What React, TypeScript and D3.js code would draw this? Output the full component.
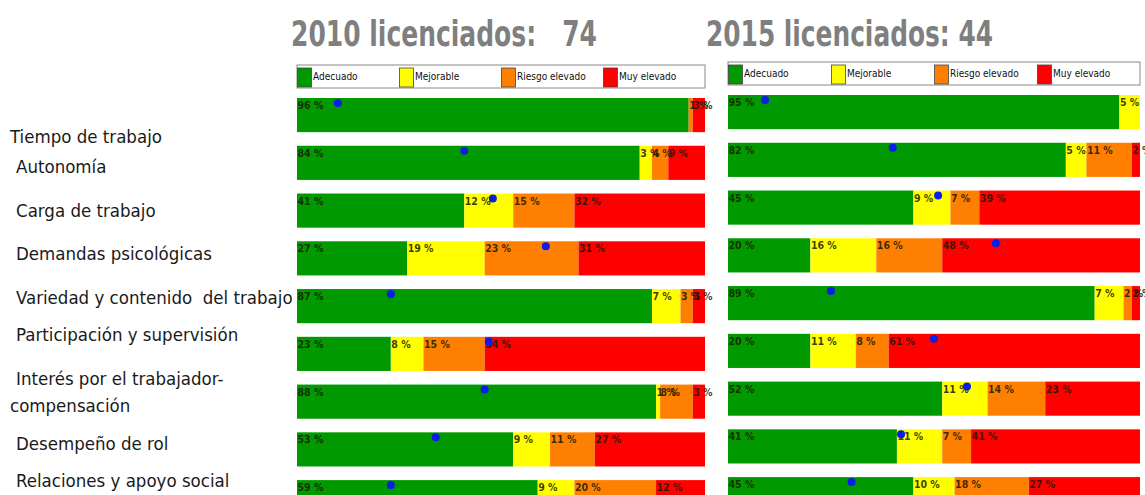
import React from "react";
import * as d3 from "d3";

const categories = [
  "Tiempo de trabajo",
  "Autonomía",
  "Carga de trabajo",
  "Demandas psicológicas",
  "Variedad y contenido  del trabajo",
  "Participación y supervisión",
  "Interés por el trabajador-|compensación",
  "Desempeño de rol",
  "Relaciones y apoyo social",
];

const levels = ["Adecuado", "Mejorable", "Riesgo elevado", "Muy elevado"];
const levelColors = ["#009900", "#ffff00", "#ff8000", "#ff0000"];

const adecuado2010 = [96, 84, 41, 27, 87, 23, 88, 53, 59];
const mejorable2010 = [0, 3, 12, 19, 7, 8, 1, 9, 9];
const riesgo2010 = [1, 4, 15, 23, 3, 15, 8, 11, 20];
const muyElevado2010 = [3, 9, 32, 31, 3, 54, 3, 27, 12];
const marker2010 = [10, 41, 48, 61, 23, 47, 46, 34, 23];

const adecuado2015 = [95, 82, 45, 20, 89, 20, 52, 41, 45];
const mejorable2015 = [5, 5, 9, 16, 7, 11, 11, 11, 10];
const riesgo2015 = [0, 11, 7, 16, 2, 8, 14, 7, 18];
const muyElevado2015 = [0, 2, 39, 48, 2, 61, 23, 41, 27];
const marker2015 = [9, 40, 51, 65, 25, 50, 58, 42, 30];

const title2010 = "2010 licenciados:   74";
const title2015 = "2015 licenciados: 44";

const COND = "'DejaVu Sans Condensed', 'DejaVu Sans', sans-serif";

type PanelProps = {
  series: number[][];
  markers: number[];
  x0: number;
  x1: number;
  yTop: number;
  legendTop: number;
  title: string;
  titleWidth: number;
  titleX: number;
};

function Panel({ series, markers, x0, x1, yTop, legendTop, title, titleWidth, titleX }: PanelProps) {
  const rows = categories.map((c, i) => {
    const o: any = { cat: c };
    levels.forEach((l, k) => (o[l] = series[k][i]));
    return o;
  });
  const stack = d3.stack<any>().keys(levels)(rows);
  const x = d3.scaleLinear().domain([0, 100]).range([x0, x1]);
  const y = d3
    .scaleBand<string>()
    .domain(categories)
    .range([yTop, yTop + 46.25 * categories.length])
    .paddingInner(0.285)
    .paddingOuter(0);
  const bh = y.bandwidth();
  const legW = x1 - x0;
  const legendItemW = legW / 4;
  return (
    <g>
      <text
        x={titleX}
        y={46}
        fill="#7f7f7f"
        fontFamily={COND}
        fontStretch="condensed"
        fontWeight="bold"
        fontSize={36}
        textLength={titleWidth}
        lengthAdjust="spacingAndGlyphs"
        style={{ whiteSpace: "pre" }}
      >
        {title}
      </text>
      <rect x={x0} y={legendTop} width={legW} height={23} fill="#fff" stroke="#8a8a8a" strokeWidth={1} />
      {levels.map((l, k) => (
        <g key={l}>
          <rect
            x={x0 + k * legendItemW + 0.5}
            y={legendTop + 3}
            width={14}
            height={19}
            fill={levelColors[k]}
            stroke="#444"
            strokeWidth={0.8}
          />
          <text
            x={x0 + k * legendItemW + 16}
            y={legendTop + 15}
            fontFamily={COND}
            fontStretch="condensed"
            fontSize={10}
            fill="#111"
          >
            {l}
          </text>
        </g>
      ))}
      {stack.map((layer, k) => (
        <g key={levels[k]}>
          {layer.map((d, i) => {
            const w = x(d[1]) - x(d[0]);
            if (w <= 0) return null;
            return (
              <rect
                key={i}
                x={x(d[0])}
                y={y(categories[i])}
                width={w}
                height={bh}
                fill={levelColors[k]}
              />
            );
          })}
        </g>
      ))}
      {stack.map((layer, k) => (
        <g key={"t" + levels[k]}>
          {layer.map((d, i) => {
            const v = d[1] - d[0];
            if (v <= 0) return null;
            return (
              <text
                key={i}
                x={x(d[0]) + 0.5}
                y={(y(categories[i]) as number) + 11}
                fontFamily={COND}
                fontStretch="condensed"
                fontSize={10.5}
                fontWeight="bold"
                fill="#1a1a00"
                fillOpacity={0.85}
              >
                {`${v} %`}
              </text>
            );
          })}
        </g>
      ))}
      {markers.map((m, i) => (
        <circle key={i} cx={x(m)} cy={(y(categories[i]) as number) + 5} r={4} fill="#0a1ee6" />
      ))}
    </g>
  );
}

const labelBaselines = [143, 173, 217, 260, 304, 341, 385, 450, 487];

export default function App() {
  return (
    <svg
      width={1145}
      height={495}
      style={{ position: "absolute", left: 0, top: 0, background: "#fff" }}
    >
      <rect width={1145} height={495} fill="#fff" />
      <Panel
        series={[adecuado2010, mejorable2010, riesgo2010, muyElevado2010]}
        markers={marker2010}
        x0={297}
        x1={705}
        yTop={98}
        legendTop={65}
        title={title2010}
        titleWidth={306}
        titleX={291}
      />
      <Panel
        series={[adecuado2015, mejorable2015, riesgo2015, muyElevado2015]}
        markers={marker2015}
        x0={728}
        x1={1140}
        yTop={95}
        legendTop={62}
        title={title2015}
        titleWidth={287}
        titleX={706}
      />
      {categories.map((c, i) => {
        const parts = c.split("|");
        return (
          <text
            key={c}
            y={labelBaselines[i]}
            fontFamily={COND}
            fontStretch="condensed"
            fontSize={18.5}
            fill="#1a1a1a"
            style={{ whiteSpace: "pre" }}
          >
            {parts.map((p, j) => (
              <tspan key={j} x={i === 0 || j > 0 ? 10 : 16} dy={j === 0 ? 0 : 27}>
                {p}
              </tspan>
            ))}
          </text>
        );
      })}
    </svg>
  );
}
